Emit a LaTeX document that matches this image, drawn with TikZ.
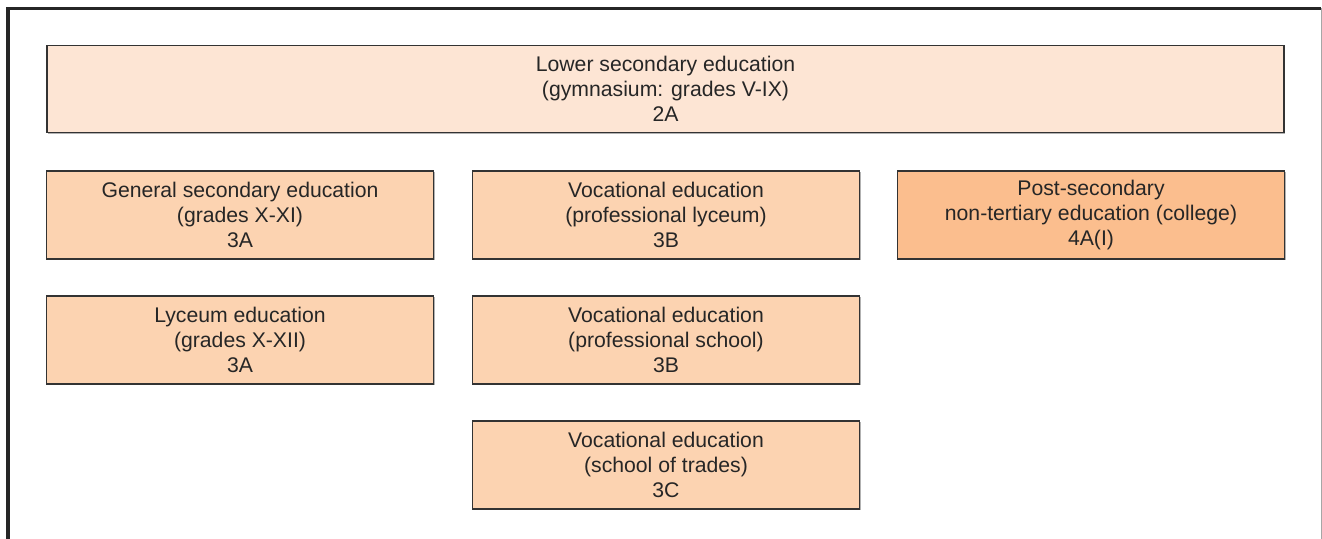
\documentclass[tikz,border=0pt]{standalone}
\usepackage{fontspec}
\setmainfont{Liberation Sans}
\usetikzlibrary{positioning,shadows}
\definecolor{peachlight}{HTML}{FDE5D4}
\definecolor{peach}{HTML}{FCD3B1}
\definecolor{peachdark}{HTML}{FBBE8E}

\begin{document}
\begin{tikzpicture}[
    x=0.5pt, y=-0.5pt,
    stage/.style={draw=black!80, line width=0.7pt, fill=peach,
        text=black!85, align=center, inner sep=0pt,
        font={\fontsize{10.6}{12.6}\selectfont},
        minimum width=193.5pt, minimum height=44pt,
        drop shadow={shadow xshift=0.6pt, shadow yshift=-0.6pt,
                     fill=gray!60, opacity=1}},
    ]

    \def\rowgap{17.8pt}
    \def\colgap{18.8pt}

    \useasboundingbox (0,0) rectangle (1322,539);

    % frame
    \draw[black!85, line width=1.6pt] (8,539) -- (8,8.5) -- (1321,8.5);
    \draw[gray!70, line width=0.5pt] (1321,8.5) -- (1321,539);

    % lower secondary
    \node[stage, fill=peachlight, minimum width=618.5pt, minimum height=43.5pt]
        (lower) at (665.5,89)
        {Lower secondary education\\(gymnasium: grades V-IX)\\2A};

    % first column
    \node[stage] (general) at (240,215)
        {General secondary education\\(grades X-XI)\\3A};
    \node[stage, below=\rowgap of general] (lyceum)
        {Lyceum education\\(grades X-XII)\\3A};

    % vocational
    \node[stage, right=\colgap of general] (voclyceum)
        {Vocational education\\(professional lyceum)\\3B};
    \node[stage, below=\rowgap of voclyceum] (vocschool)
        {Vocational education\\(professional school)\\3B};
    \node[stage, below=\rowgap of vocschool] (voctrades)
        {Vocational education\\(school of trades)\\3C};

    % post-secondary
    \node[stage, fill=peachdark, right=18.3pt of voclyceum] (college)
        {Post-secondary\\non-tertiary education (college)\\4A(I)};

\end{tikzpicture}
\end{document}
